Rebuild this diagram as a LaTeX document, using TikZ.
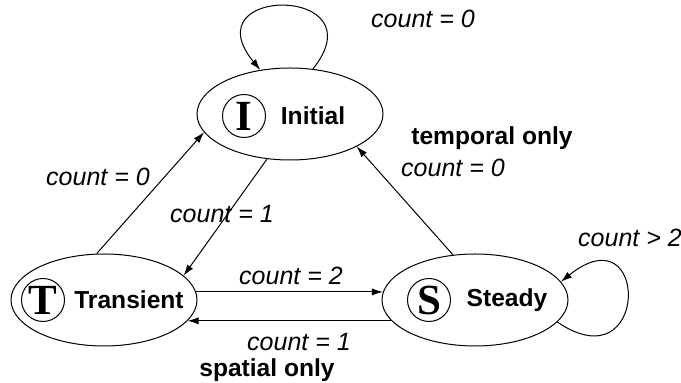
\documentclass[tikz,border=0pt]{standalone}
\usepackage{fontspec}
\setmainfont{Liberation Sans}
\newfontfamily\serifb{Liberation Serif}
\usetikzlibrary{shapes.geometric,arrows.meta}
\begin{document}
\begin{tikzpicture}[x=0.5pt,y=-0.5pt,
  state/.style={draw, ellipse, minimum width=93pt, minimum height=46pt, inner sep=0pt, line width=0.5pt},
  badge/.style={draw, circle, minimum size=21.5pt, inner sep=0pt, line width=0.5pt, font=\serifb\bfseries\fontsize{21.5}{21.5}\selectfont},
  sname/.style={font=\bfseries\fontsize{12.3}{14}\selectfont, inner sep=0pt},
  cond/.style={font=\itshape\fontsize{12.5}{14}\selectfont, inner sep=0pt},
  note/.style={font=\bfseries\fontsize{12.3}{14}\selectfont, inner sep=0pt},
  edge/.style={line width=0.5pt, -{Latex[length=5.5pt,width=3.6pt]}}]
\useasboundingbox (0,0) rectangle (681,383);
% states
\node[state] (I) at (290,114) {};
\node[state] (T) at (104,300) {};
\node[state] (S) at (475,300) {};
\node[badge] (Ib) at (244,116) {I};
\node[badge] (Tb) at (43,300) {T};
\node[badge] (Sb) at (429,300) {S};
\node[sname] (In) at (313,116) {Initial};
\node[sname] (Tn) at (129,300) {Transient};
\node[sname] (Sn) at (507,300) {Steady};
% edges
\draw[edge] (T.99) -- (I.192);
\draw[edge] (I.243) -- (T.17);
\draw[edge] (S.116) -- (I.334);
\draw[edge] (T.5) -- (S.175);
\draw[edge] (S.194) -- (T.346);
\draw[edge] (I.63) .. controls (380,-15) and (190,-15) .. (I.124);
\draw[edge] (S.345) .. controls (650,385) and (650,210) .. (S.12);
% labels
\node[cond] (l1) at (423,19) {count = 0};
\node[note] (l2) at (492,138) {temporal only};
\node[cond] (l3) at (453,168) {count = 0};
\node[cond] (l4) at (98,177) {count = 0};
\node[cond] (l5) at (222,214) {count = 1};
\node[cond] (l6) at (291,276) {count = 2};
\node[cond] (l7) at (630,238) {count > 2};
\node[cond] (l8) at (299,342) {count = 1};
\node[note] (l9) at (267,370) {spatial only};
\end{tikzpicture}
\end{document}
